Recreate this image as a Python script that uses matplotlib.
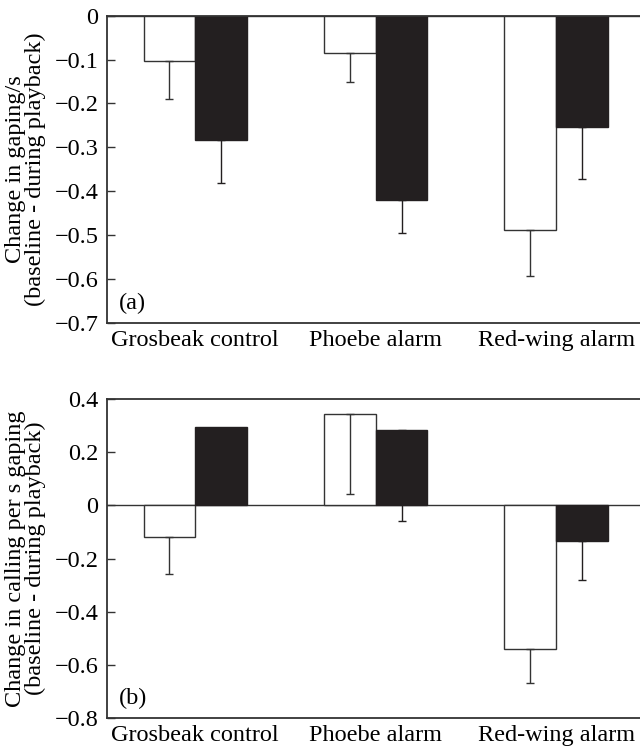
import numpy as np
import matplotlib
matplotlib.use("Agg")
import matplotlib.pyplot as plt

plt.rcParams["font.family"] = ["Liberation Serif", "DejaVu Serif"]
plt.rcParams["axes.unicode_minus"] = True

groups = ["Grosbeak control", "Phoebe alarm", "Red-wing alarm"]

# panel (a): change in gaping/s
gape_white = [-0.103, -0.084, -0.489]
gape_white_err = [0.086, 0.067, 0.105]
gape_black = [-0.283, -0.420, -0.254]
gape_black_err = [0.098, 0.075, 0.118]

# panel (b): change in calling per s gaping
call_white = [-0.120, 0.345, -0.538]
call_white_err = [0.137, 0.301, 0.131]
call_black = [0.295, 0.283, -0.134]
call_black_err = [0.0, 0.343, 0.146]

edge = "#333333"
dark = "#231f20"
fs = 17.5

fig = plt.figure(figsize=(6.4, 7.48), dpi=100)
ax1 = fig.add_axes([0.167, 0.5686, 0.84, 0.4104])
ax2 = fig.add_axes([0.167, 0.0397, 0.84, 0.4269])

x = np.arange(len(groups))
w = 0.287


def draw(ax, white, werr, black, berr, ylim, yticks, ylabel, tag):
    ax.bar(x - w / 2, white, w, color="white", edgecolor=edge, linewidth=1.0, zorder=2)
    ax.bar(x + w / 2, black, w, color=dark, edgecolor=dark, linewidth=1.0, zorder=2)
    # error bars extend away from zero on one side only
    for xs, vals, errs, col in [(x - w / 2, white, werr, edge), (x + w / 2, black, berr, dark)]:
        for xi, v, e in zip(xs, vals, errs):
            if e == 0:
                continue
            ax.errorbar(xi, v, yerr=[[e], [0]], fmt="none", ecolor=col, elinewidth=1.0,
                        capsize=3, capthick=1.0, zorder=3)
    ax.axhline(0, color=edge, linewidth=1.0, zorder=1)
    ax.set_xlim(-0.49, 2.49)
    ax.set_ylim(*ylim)
    ax.set_yticks(yticks)
    ax.set_yticklabels([("0" if t == 0 else f"{t:.1f}".replace("-", "\u2212")) for t in yticks])
    ax.set_xticks(x)
    ax.set_xticklabels(groups)
    ax.tick_params(axis="y", direction="in", length=6, width=1.0, color=edge,
                   labelsize=fs, pad=6)
    ax.tick_params(axis="x", length=0, labelsize=fs, pad=5)
    for s in ["left", "top", "bottom"]:
        ax.spines[s].set_color(edge)
        ax.spines[s].set_linewidth(1.3)
    ax.spines["right"].set_visible(False)
    ax.set_ylabel(ylabel, fontsize=fs, linespacing=0.95, labelpad=6)
    ax.text(0.022, 0.045, tag, transform=ax.transAxes, fontsize=fs)


draw(ax1, gape_white, gape_white_err, gape_black, gape_black_err,
     (-0.7, 0), np.round(np.arange(-0.7, 0.01, 0.1), 1),
     "Change in gaping/s\n(baseline - during playback)", "(a)")
draw(ax2, call_white, call_white_err, call_black, call_black_err,
     (-0.8, 0.4), np.round(np.arange(-0.8, 0.41, 0.2), 1),
     "Change in calling per s gaping\n(baseline - during playback)", "(b)")

fig.savefig("out.png", dpi=100)
